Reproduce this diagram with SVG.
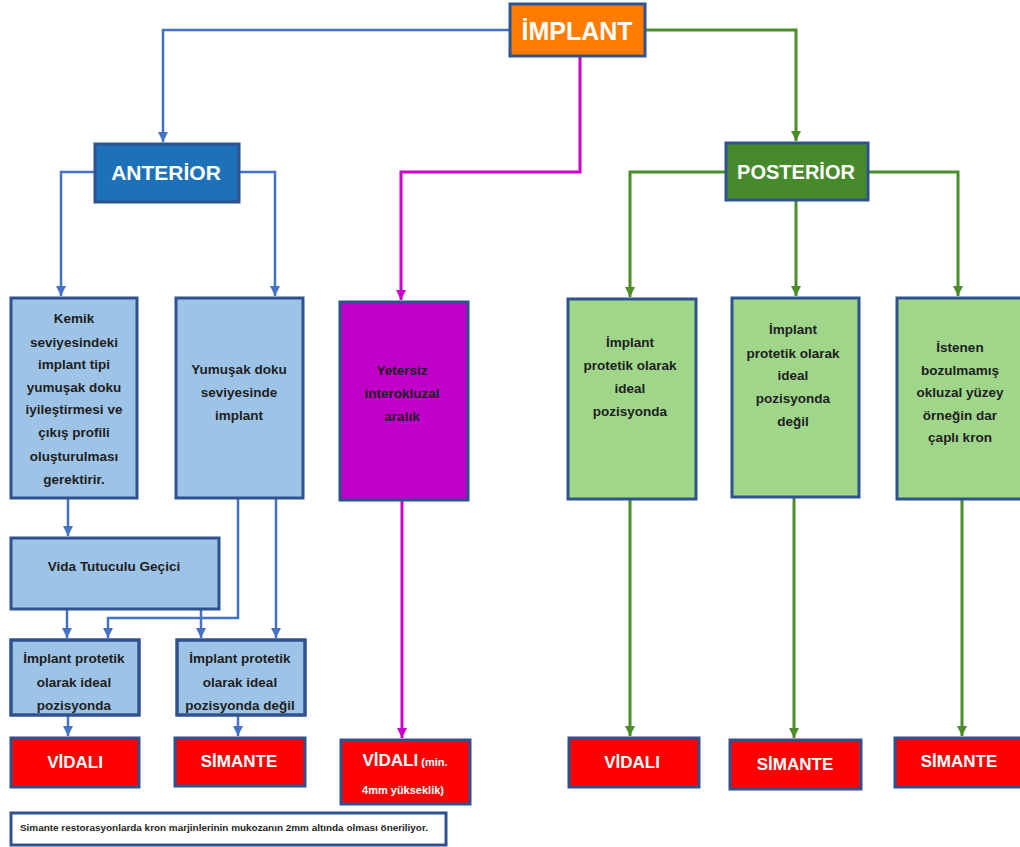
<svg xmlns="http://www.w3.org/2000/svg" width="1020" height="847" viewBox="0 0 1020 847">
<style>
.bx{stroke:#2F528F;stroke-width:3}
.lb{fill:#9DC3E6}
.gr{fill:#A0D68A}
.rd{fill:#FF0000}
.t{font-family:"Liberation Sans",Arial,sans-serif;font-weight:bold;text-anchor:middle}
.dk{fill:#1E1E1E;font-size:13.5px}
.wh{fill:#FFFFFF}
.cb{fill:none;stroke:#4472C4;stroke-width:2.5}
.cm{fill:none;stroke:#CC00CC;stroke-width:3}
.cg{fill:none;stroke:#4C8C2B;stroke-width:3}
</style>
<defs>
<marker id="ab" markerUnits="userSpaceOnUse" markerWidth="12" markerHeight="12" refX="10" refY="6" orient="auto"><path d="M0,1 L10,6 L0,11 z" fill="#4472C4"/></marker>
<marker id="am" markerUnits="userSpaceOnUse" markerWidth="12" markerHeight="12" refX="10" refY="6" orient="auto"><path d="M0,1 L10,6 L0,11 z" fill="#CC00CC"/></marker>
<marker id="ag" markerUnits="userSpaceOnUse" markerWidth="12" markerHeight="12" refX="10" refY="6" orient="auto"><path d="M0,1 L10,6 L0,11 z" fill="#4C8C2B"/></marker>
<clipPath id="c3"><rect x="11" y="640" width="128" height="74"/></clipPath>
<clipPath id="c4"><rect x="177" y="640" width="128" height="74"/></clipPath>
</defs>

<g id="connectors">
<path class="cb" marker-end="url(#ab)" d="M510,30 H163 V142"/>
<path class="cb" marker-end="url(#ab)" d="M95,172 H61 V296"/>
<path class="cb" marker-end="url(#ab)" d="M239,172 H275 V296"/>
<path class="cb" marker-end="url(#ab)" d="M68,498 V536"/>
<path class="cb" marker-end="url(#ab)" d="M238,498 V618 H108 V638"/>
<path class="cb" marker-end="url(#ab)" d="M276,498 V638"/>
<path class="cb" marker-end="url(#ab)" d="M67,609 V638"/>
<path class="cb" marker-end="url(#ab)" d="M201,609 V638"/>
<path class="cb" marker-end="url(#ab)" d="M68,715 V736"/>
<path class="cb" marker-end="url(#ab)" d="M238,715 V736"/>
<path class="cm" marker-end="url(#am)" d="M580,56 V172 H401 V300"/>
<path class="cm" marker-end="url(#am)" d="M402,500 V738"/>
<path class="cg" marker-end="url(#ag)" d="M645,30 H796 V141"/>
<path class="cg" marker-end="url(#ag)" d="M726,172 H630 V297"/>
<path class="cg" marker-end="url(#ag)" d="M796,200 V296"/>
<path class="cg" marker-end="url(#ag)" d="M868,172 H958 V296"/>
<path class="cg" marker-end="url(#ag)" d="M630,499 V736"/>
<path class="cg" marker-end="url(#ag)" d="M794,497 V738"/>
<path class="cg" marker-end="url(#ag)" d="M962,499 V736"/>
</g>

<g id="implant">
<rect class="bx" x="510" y="4" width="135" height="52" fill="#FF7C00"/>
<text class="t wh" x="577" y="40" font-size="25">İMPLANT</text>
</g>
<g id="anterior">
<rect class="bx" x="95" y="144" width="144" height="58" fill="#1D71B8"/>
<text class="t wh" x="166" y="180" font-size="21">ANTERİOR</text>
</g>
<g id="posterior">
<rect class="bx" x="726" y="143" width="142" height="57" fill="#478A2C"/>
<text class="t wh" x="796" y="179" font-size="20">POSTERİOR</text>
</g>

<g id="kemik">
<rect class="bx lb" x="11" y="298" width="126" height="200"/>
<text class="t dk" x="74"><tspan x="74" y="323">Kemik</tspan><tspan x="74" y="347">seviyesindeki</tspan><tspan x="74" y="369">implant tipi</tspan><tspan x="74" y="392">yumuşak doku</tspan><tspan x="74" y="414">iyileştirmesi ve</tspan><tspan x="74" y="437">çıkış profili</tspan><tspan x="74" y="461">oluşturulması</tspan><tspan x="74" y="484">gerektirir.</tspan></text>
</g>
<g id="yumusak">
<rect class="bx lb" x="176" y="298" width="127" height="200"/>
<text class="t dk" x="239"><tspan x="239" y="374">Yumuşak doku</tspan><tspan x="239" y="397">seviyesinde</tspan><tspan x="239" y="420">implant</tspan></text>
</g>
<g id="vida">
<rect class="bx lb" x="11" y="538" width="208" height="71"/>
<text class="t dk" x="114" y="571" font-size="14">Vida Tutuculu Geçici</text>
</g>
<g id="ideal-ant">
<rect class="bx lb" x="11" y="640" width="128" height="75"/>
<text class="t dk" x="74" clip-path="url(#c3)"><tspan x="74" y="663">İmplant protetik</tspan><tspan x="74" y="687">olarak ideal</tspan><tspan x="74" y="710">pozisyonda</tspan></text>
<rect x="11" y="640" width="128" height="75" fill="none" class="bx"/>
</g>
<g id="degil-ant">
<rect class="bx lb" x="177" y="640" width="128" height="75"/>
<text class="t dk" x="240" clip-path="url(#c4)"><tspan x="240" y="663">İmplant protetik</tspan><tspan x="240" y="687">olarak ideal</tspan><tspan x="240" y="710">pozisyonda değil</tspan></text>
<rect x="177" y="640" width="128" height="75" fill="none" class="bx"/>
</g>
<g id="vidali-ant">
<rect class="bx rd" x="11" y="738" width="128" height="49"/>
<text class="t wh" x="75" y="768" font-size="17">VİDALI</text>
</g>
<g id="simante-ant">
<rect class="bx rd" x="175" y="738" width="130" height="48"/>
<text class="t wh" x="239" y="767" font-size="17">SİMANTE</text>
</g>

<g id="yetersiz">
<rect class="bx" x="340" y="302" width="128" height="198" fill="#C000C8"/>
<text class="t dk" x="402" fill="#2A0030"><tspan x="402" y="375">Yetersiz</tspan><tspan x="402" y="398">interokluzal</tspan><tspan x="402" y="421">aralık</tspan></text>
</g>
<g id="vidali-mid">
<rect class="bx rd" x="341" y="740" width="129" height="64"/>
<text class="t wh" x="405" y="766"><tspan font-size="17">VİDALI</tspan><tspan font-size="11"> (min.</tspan></text>
<text class="t wh" x="403" y="794" font-size="11">4mm yükseklik)</text>
</g>

<g id="ideal-post">
<rect class="bx gr" x="568" y="299" width="128" height="200"/>
<text class="t dk" x="630"><tspan x="630" y="347">İmplant</tspan><tspan x="630" y="370">protetik olarak</tspan><tspan x="630" y="393">ideal</tspan><tspan x="630" y="416">pozisyonda</tspan></text>
</g>
<g id="degil-post">
<rect class="bx gr" x="732" y="298" width="127" height="199"/>
<text class="t dk" x="793"><tspan x="793" y="334">İmplant</tspan><tspan x="793" y="358">protetik olarak</tspan><tspan x="793" y="380">ideal</tspan><tspan x="793" y="403">pozisyonda</tspan><tspan x="793" y="426">değil</tspan></text>
</g>
<g id="istenen">
<rect class="bx gr" x="897" y="298" width="130" height="201"/>
<text class="t dk" x="960"><tspan x="960" y="352">İstenen</tspan><tspan x="960" y="375">bozulmamış</tspan><tspan x="960" y="397">okluzal yüzey</tspan><tspan x="960" y="420">örneğin dar</tspan><tspan x="960" y="442">çaplı kron</tspan></text>
</g>
<g id="vidali-post">
<rect class="bx rd" x="569" y="738" width="130" height="49"/>
<text class="t wh" x="632" y="768" font-size="17">VİDALI</text>
</g>
<g id="simante-post1">
<rect class="bx rd" x="730" y="740" width="131" height="49"/>
<text class="t wh" x="795" y="770" font-size="17">SİMANTE</text>
</g>
<g id="simante-post2">
<rect class="bx rd" x="895" y="738" width="130" height="49"/>
<text class="t wh" x="959" y="767" font-size="17">SİMANTE</text>
</g>

<g id="note">
<rect class="bx" x="11" y="813" width="435" height="32" fill="#FFFFFF"/>
<text class="t" x="20" y="831" font-size="9" fill="#1E1E1E" style="text-anchor:start" textLength="408" lengthAdjust="spacingAndGlyphs">Simante restorasyonlarda kron marjinlerinin mukozanın 2mm altında olması öneriliyor.</text>
</g>
</svg>
